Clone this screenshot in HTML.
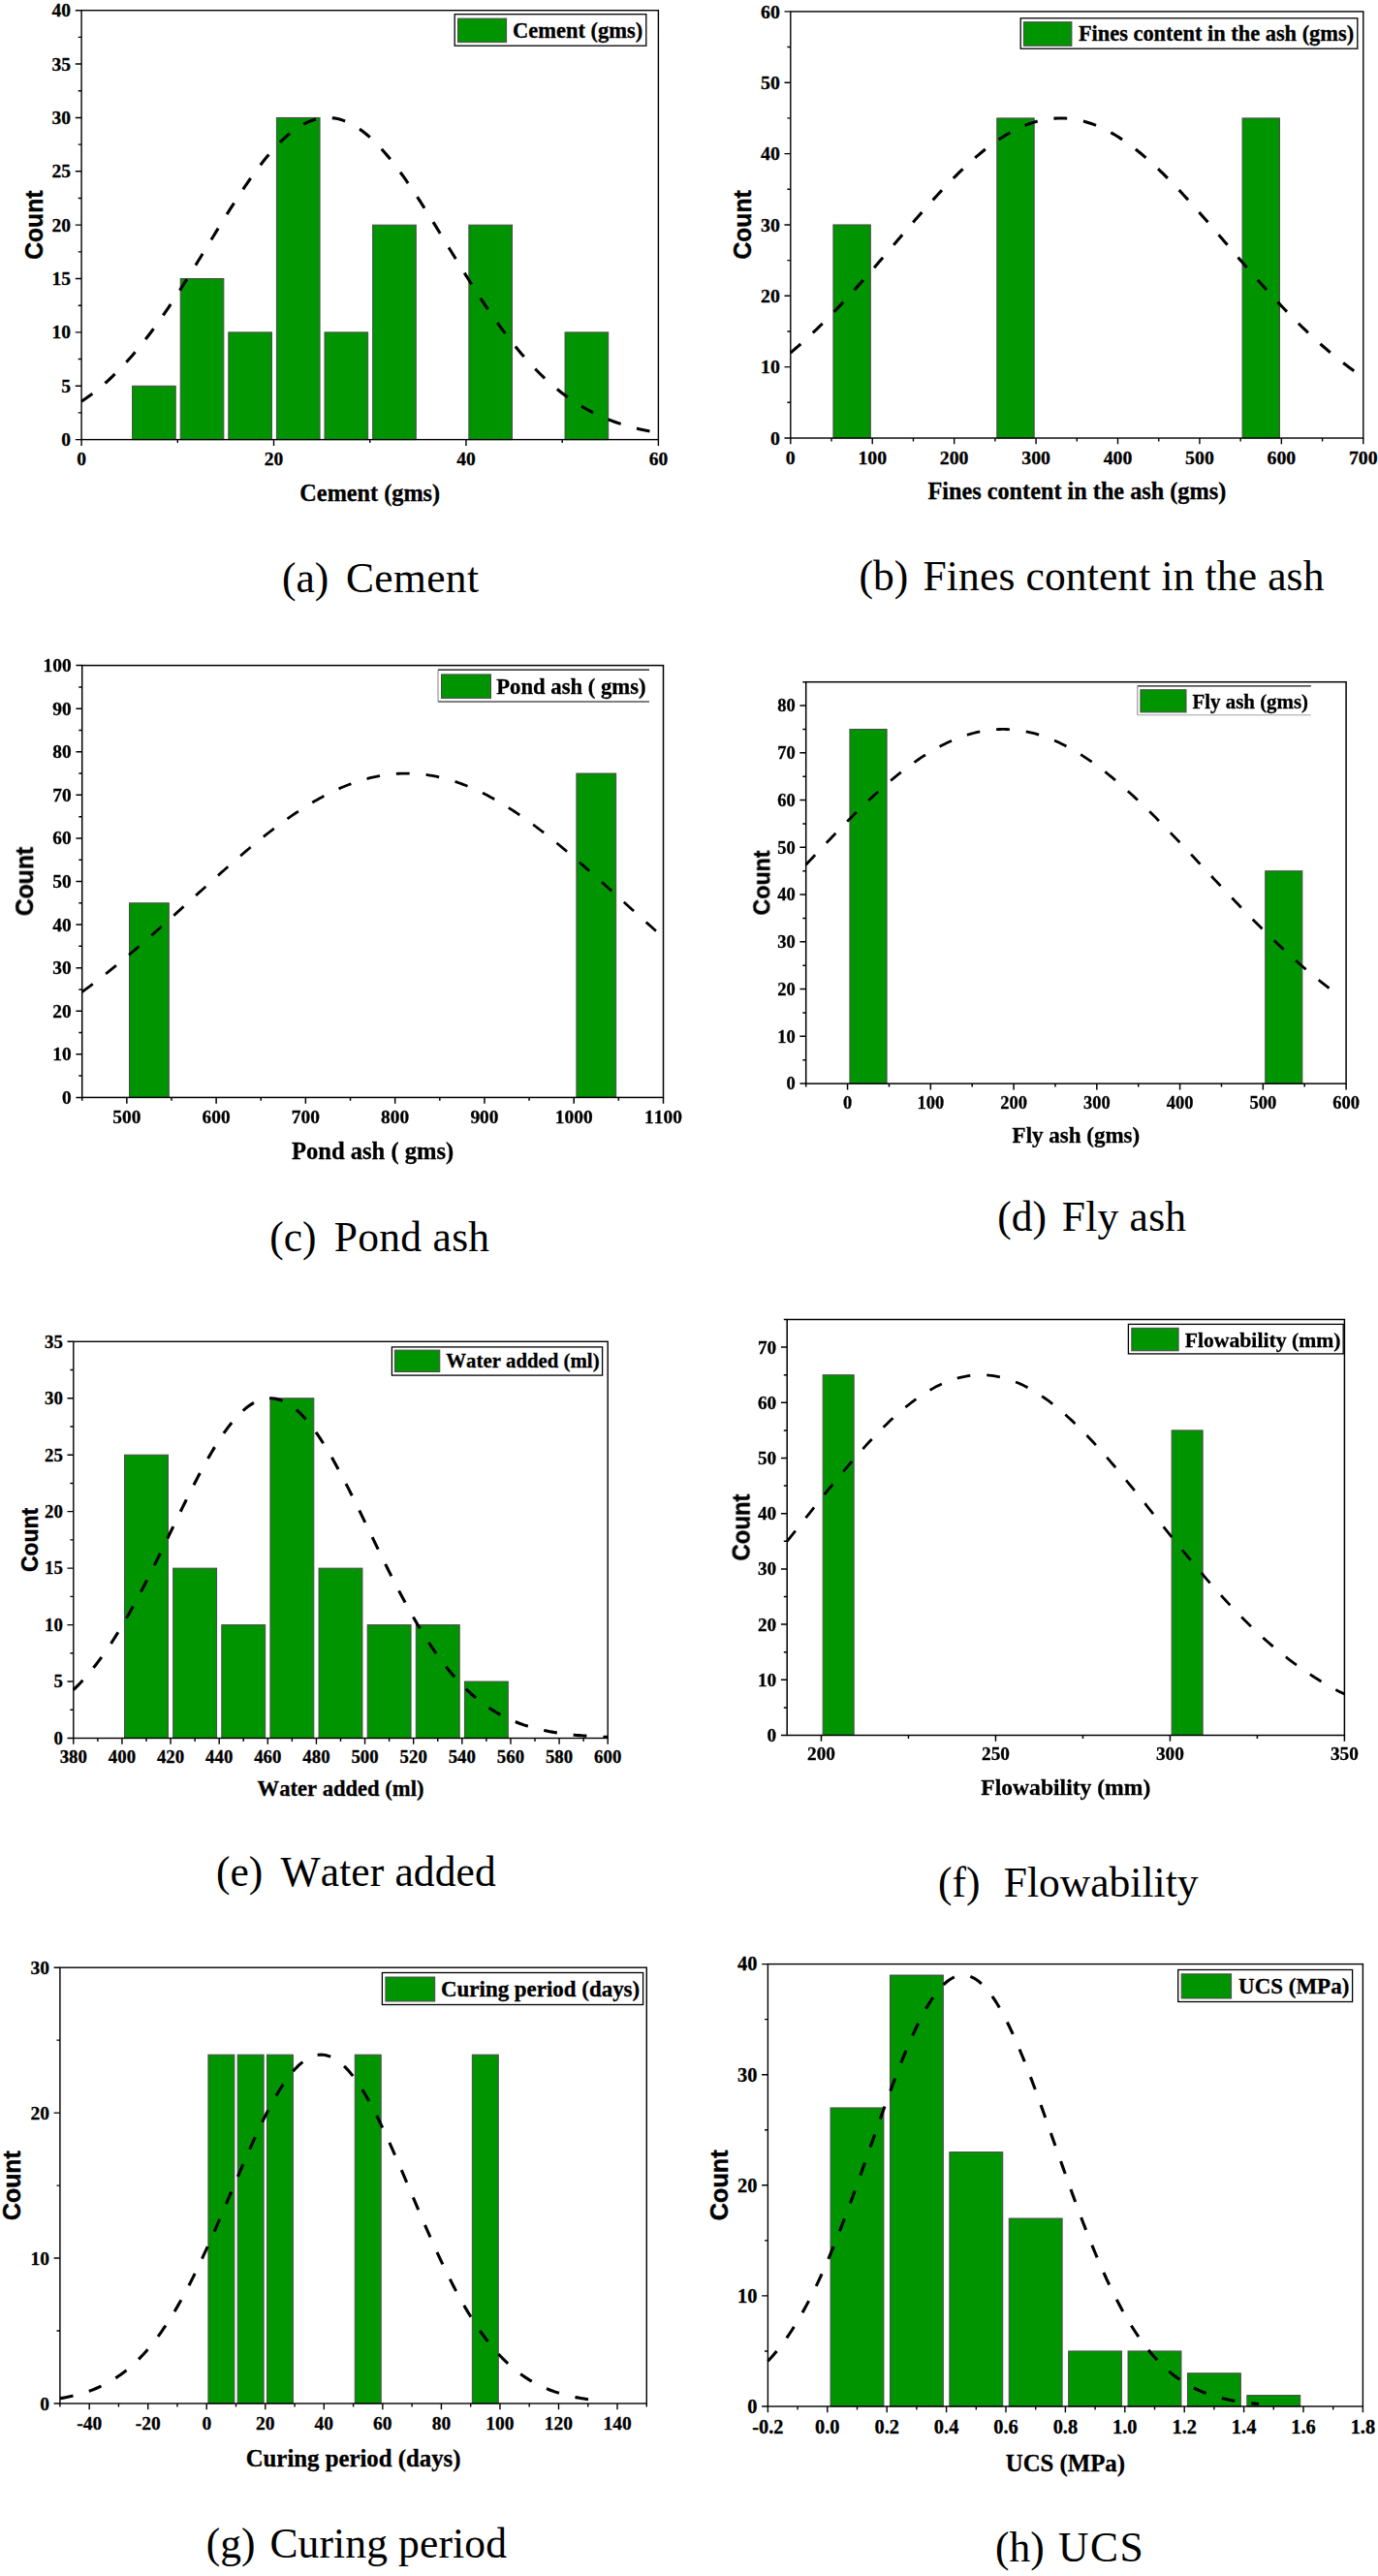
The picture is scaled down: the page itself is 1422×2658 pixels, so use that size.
<!DOCTYPE html>
<html><head><meta charset="utf-8"><title>Histograms</title>
<style>html,body{margin:0;padding:0;background:#fff;}svg{display:block;}text{font-kerning:none;}</style></head>
<body>
<svg width="1422" height="2658" viewBox="0 0 1422 2658">
<defs><filter id="bl" x="-5%" y="-5%" width="110%" height="110%"><feGaussianBlur stdDeviation="0.5"/></filter></defs>
<rect width="1422" height="2658" fill="#fff"/>
<g>
<rect x="136.59" y="398.24" width="44.65" height="55.36" fill="#009400" stroke="#4a4a4a" stroke-width="1"/>
<rect x="186.2" y="287.51" width="44.65" height="166.09" fill="#009400" stroke="#4a4a4a" stroke-width="1"/>
<rect x="235.81" y="342.88" width="44.65" height="110.73" fill="#009400" stroke="#4a4a4a" stroke-width="1"/>
<rect x="285.41" y="121.43" width="44.65" height="332.18" fill="#009400" stroke="#4a4a4a" stroke-width="1"/>
<rect x="335.02" y="342.88" width="44.65" height="110.73" fill="#009400" stroke="#4a4a4a" stroke-width="1"/>
<rect x="384.63" y="232.15" width="44.65" height="221.45" fill="#009400" stroke="#4a4a4a" stroke-width="1"/>
<rect x="483.85" y="232.15" width="44.65" height="221.45" fill="#009400" stroke="#4a4a4a" stroke-width="1"/>
<rect x="583.06" y="342.88" width="44.65" height="110.73" fill="#009400" stroke="#4a4a4a" stroke-width="1"/>
<polyline points="84.1,414.17 86.58,412.5 89.06,410.78 91.54,409.01 94.02,407.18 96.5,405.29 98.98,403.35 101.46,401.35 103.94,399.3 106.42,397.19 108.9,395.02 111.38,392.79 113.86,390.5 116.35,388.15 118.83,385.74 121.31,383.27 123.79,380.74 126.27,378.15 128.75,375.51 131.23,372.8 133.71,370.03 136.19,367.2 138.67,364.31 141.15,361.36 143.63,358.36 146.11,355.29 148.59,352.17 151.07,348.99 153.55,345.76 156.03,342.47 158.51,339.13 160.99,335.73 163.47,332.29 165.95,328.79 168.43,325.25 170.91,321.65 173.39,318.02 175.88,314.34 178.36,310.61 180.84,306.85 183.32,303.05 185.8,299.21 188.28,295.34 190.76,291.44 193.24,287.51 195.72,283.56 198.2,279.58 200.68,275.58 203.16,271.56 205.64,267.53 208.12,263.49 210.6,259.43 213.08,255.37 215.56,251.31 218.04,247.25 220.52,243.2 223,239.15 225.48,235.11 227.96,231.08 230.44,227.08 232.92,223.09 235.41,219.13 237.89,215.2 240.37,211.3 242.85,207.44 245.33,203.62 247.81,199.84 250.29,196.11 252.77,192.43 255.25,188.81 257.73,185.25 260.21,181.74 262.69,178.31 265.17,174.94 267.65,171.65 270.13,168.43 272.61,165.3 275.09,162.25 277.57,159.28 280.05,156.41 282.53,153.63 285.01,150.95 287.49,148.36 289.97,145.89 292.45,143.51 294.94,141.25 297.42,139.1 299.9,137.06 302.38,135.13 304.86,133.33 307.34,131.64 309.82,130.08 312.3,128.65 314.78,127.34 317.26,126.15 319.74,125.1 322.22,124.18 324.7,123.39 327.18,122.73 329.66,122.2 332.14,121.81 334.62,121.56 337.1,121.44 339.58,121.45 342.06,121.6 344.54,121.88 347.02,122.3 349.5,122.85 351.99,123.54 354.47,124.35 356.95,125.3 359.43,126.38 361.91,127.59 364.39,128.92 366.87,130.39 369.35,131.97 371.83,133.68 374.31,135.51 376.79,137.45 379.27,139.52 381.75,141.69 384.23,143.98 386.71,146.37 389.19,148.87 391.67,151.48 394.15,154.18 396.63,156.98 399.11,159.87 401.59,162.85 404.07,165.92 406.55,169.07 409.03,172.3 411.51,175.61 414,178.99 416.48,182.44 418.96,185.95 421.44,189.53 423.92,193.17 426.4,196.85 428.88,200.59 431.36,204.38 433.84,208.21 436.32,212.08 438.8,215.99 441.28,219.92 443.76,223.89 446.24,227.88 448.72,231.89 451.2,235.91 453.68,239.95 456.16,244.01 458.64,248.06 461.12,252.13 463.6,256.19 466.08,260.25 468.56,264.3 471.04,268.34 473.53,272.37 476.01,276.38 478.49,280.38 480.97,284.35 483.45,288.3 485.93,292.23 488.41,296.12 490.89,299.98 493.37,303.81 495.85,307.61 498.33,311.36 500.81,315.07 503.29,318.75 505.77,322.38 508.25,325.96 510.73,329.49 513.21,332.98 515.69,336.42 518.17,339.8 520.65,343.13 523.13,346.41 525.61,349.63 528.09,352.8 530.57,355.91 533.06,358.96 535.54,361.96 538.02,364.89 540.5,367.77 542.98,370.59 545.46,373.34 547.94,376.04 550.42,378.68 552.9,381.25 555.38,383.77 557.86,386.23 560.34,388.62 562.82,390.96 565.3,393.24 567.78,395.46 570.26,397.61 572.74,399.72 575.22,401.76 577.7,403.74 580.18,405.67 582.66,407.55 585.14,409.37 587.62,411.13 590.1,412.84 592.59,414.5 595.07,416.1 597.55,417.65 600.03,419.16 602.51,420.61 604.99,422.02 607.47,423.37 609.95,424.69 612.43,425.95 614.91,427.17 617.39,428.35 619.87,429.48 622.35,430.58 624.83,431.63 627.31,432.64 629.79,433.62 632.27,434.55 634.75,435.45 637.23,436.32 639.71,437.15 642.19,437.94 644.67,438.71 647.15,439.44 649.63,440.14 652.12,440.82 654.6,441.46 657.08,442.08 659.56,442.66 662.04,443.23 664.52,443.77 667,444.28 669.48,444.77 671.96,445.24 674.44,445.69 676.92,446.11 679.4,446.52" fill="none" stroke="#000" stroke-width="3.1" stroke-dasharray="13.8 17.0" stroke-dashoffset="0"/>
<rect x="84.1" y="10.7" width="595.3" height="442.9" fill="none" stroke="#000" stroke-width="1.4"/>
<path d="M84.1 453.6h-6.3M84.1 398.24h-6.3M84.1 342.88h-6.3M84.1 287.51h-6.3M84.1 232.15h-6.3M84.1 176.79h-6.3M84.1 121.43h-6.3M84.1 66.06h-6.3M84.1 10.7h-6.3M84.1 425.92h-3.4M84.1 370.56h-3.4M84.1 315.19h-3.4M84.1 259.83h-3.4M84.1 204.47h-3.4M84.1 149.11h-3.4M84.1 93.74h-3.4M84.1 38.38h-3.4M84.1 453.6v6.3M282.53 453.6v6.3M480.97 453.6v6.3M679.4 453.6v6.3M183.32 453.6v3.4M381.75 453.6v3.4M580.18 453.6v3.4" stroke="#000" stroke-width="1.4" fill="none"/>
<g font-family='"Liberation Serif", serif' font-weight="bold" font-size="19.5" fill="#000" stroke="#000" stroke-width="0.3">
<text x="73.1" y="460.13" text-anchor="end">0</text>
<text x="73.1" y="404.77" text-anchor="end">5</text>
<text x="73.1" y="349.41" text-anchor="end">10</text>
<text x="73.1" y="294.05" text-anchor="end">15</text>
<text x="73.1" y="238.68" text-anchor="end">20</text>
<text x="73.1" y="183.32" text-anchor="end">25</text>
<text x="73.1" y="127.96" text-anchor="end">30</text>
<text x="73.1" y="72.59" text-anchor="end">35</text>
<text x="73.1" y="17.23" text-anchor="end">40</text>
<text x="84.1" y="480.4" text-anchor="middle">0</text>
<text x="282.53" y="480.4" text-anchor="middle">20</text>
<text x="480.97" y="480.4" text-anchor="middle">40</text>
<text x="679.4" y="480.4" text-anchor="middle">60</text>
</g>
<text x="381.75" y="517" text-anchor="middle" font-family='"Liberation Serif", serif' font-weight="bold" font-size="24.25" stroke="#000" stroke-width="0.3">Cement (gms)</text>
<text transform="translate(44.3 232.15) rotate(-90) scale(1.03 1.08)" text-anchor="middle" font-family='"Liberation Sans", sans-serif' font-weight="bold" font-size="24" stroke="#000" stroke-width="0.4">Count</text>
<rect x="469.2" y="14.7" width="197.6" height="32.5" fill="#fff" stroke="#000" stroke-width="1.3"/>
<rect x="472.5" y="19.1" width="50.1" height="24.5" fill="#009400" stroke="#4a4a4a" stroke-width="1"/>
<text x="529" y="38.7" font-family='"Liberation Serif", serif' font-weight="bold" font-size="22.5" stroke="#000" stroke-width="0.3">Cement (gms)</text>
</g>
<g font-family='"Liberation Serif", serif' font-size="43.5" fill="#000"><text x="290.9" y="610.6">(a)</text><text x="357" y="610.6" textLength="137" lengthAdjust="spacing">Cement</text></g>
<g>
<rect x="859.91" y="231.95" width="38.41" height="220.05" fill="#009400" stroke="#4a4a4a" stroke-width="1"/>
<rect x="1028.77" y="121.92" width="38.42" height="330.08" fill="#009400" stroke="#4a4a4a" stroke-width="1"/>
<rect x="1282.06" y="121.92" width="38.42" height="330.08" fill="#009400" stroke="#4a4a4a" stroke-width="1"/>
<polyline points="815.8,363.94 818.26,361.87 820.72,359.77 823.19,357.64 825.65,355.48 828.11,353.29 830.57,351.07 833.04,348.82 835.5,346.55 837.96,344.25 840.42,341.92 842.89,339.56 845.35,337.17 847.81,334.76 850.27,332.33 852.74,329.86 855.2,327.38 857.66,324.87 860.12,322.33 862.59,319.77 865.05,317.19 867.51,314.59 869.97,311.96 872.44,309.32 874.9,306.65 877.36,303.97 879.82,301.27 882.29,298.55 884.75,295.81 887.21,293.06 889.67,290.29 892.14,287.51 894.6,284.71 897.06,281.9 899.52,279.08 901.99,276.25 904.45,273.41 906.91,270.57 909.38,267.71 911.84,264.85 914.3,261.98 916.76,259.11 919.22,256.24 921.69,253.36 924.15,250.48 926.61,247.61 929.07,244.73 931.54,241.86 934,239 936.46,236.13 938.92,233.28 941.39,230.43 943.85,227.6 946.31,224.77 948.77,221.95 951.24,219.15 953.7,216.36 956.16,213.59 958.62,210.84 961.09,208.1 963.55,205.39 966.01,202.69 968.47,200.02 970.94,197.37 973.4,194.75 975.86,192.15 978.32,189.59 980.79,187.05 983.25,184.54 985.71,182.06 988.17,179.62 990.64,177.21 993.1,174.84 995.56,172.5 998.02,170.21 1000.49,167.95 1002.95,165.73 1005.41,163.56 1007.88,161.43 1010.34,159.34 1012.8,157.3 1015.26,155.31 1017.72,153.37 1020.19,151.47 1022.65,149.63 1025.11,147.84 1027.58,146.09 1030.04,144.41 1032.5,142.77 1034.96,141.2 1037.42,139.68 1039.89,138.21 1042.35,136.81 1044.81,135.46 1047.28,134.18 1049.74,132.95 1052.2,131.79 1054.66,130.68 1057.12,129.65 1059.59,128.67 1062.05,127.76 1064.51,126.91 1066.97,126.13 1069.44,125.41 1071.9,124.76 1074.36,124.18 1076.83,123.66 1079.29,123.21 1081.75,122.82 1084.21,122.51 1086.67,122.26 1089.14,122.08 1091.6,121.97 1094.06,121.93 1096.52,121.95 1098.99,122.04 1101.45,122.2 1103.91,122.43 1106.38,122.73 1108.84,123.09 1111.3,123.52 1113.76,124.02 1116.22,124.59 1118.69,125.22 1121.15,125.92 1123.61,126.68 1126.08,127.51 1128.54,128.4 1131,129.36 1133.46,130.38 1135.92,131.47 1138.39,132.61 1140.85,133.82 1143.31,135.09 1145.78,136.42 1148.24,137.81 1150.7,139.25 1153.16,140.76 1155.62,142.32 1158.09,143.94 1160.55,145.61 1163.01,147.33 1165.47,149.11 1167.94,150.94 1170.4,152.82 1172.86,154.75 1175.32,156.73 1177.79,158.76 1180.25,160.83 1182.71,162.95 1185.17,165.11 1187.64,167.31 1190.1,169.56 1192.56,171.84 1195.03,174.17 1197.49,176.53 1199.95,178.93 1202.41,181.36 1204.88,183.83 1207.34,186.33 1209.8,188.86 1212.26,191.42 1214.72,194.01 1217.19,196.62 1219.65,199.26 1222.11,201.93 1224.57,204.62 1227.04,207.33 1229.5,210.06 1231.96,212.8 1234.42,215.57 1236.89,218.35 1239.35,221.15 1241.81,223.96 1244.27,226.79 1246.74,229.62 1249.2,232.47 1251.66,235.32 1254.12,238.18 1256.59,241.04 1259.05,243.91 1261.51,246.79 1263.97,249.66 1266.44,252.54 1268.9,255.42 1271.36,258.29 1273.83,261.16 1276.29,264.03 1278.75,266.89 1281.21,269.75 1283.67,272.6 1286.14,275.44 1288.6,278.28 1291.06,281.1 1293.53,283.91 1295.99,286.71 1298.45,289.5 1300.91,292.27 1303.38,295.03 1305.84,297.77 1308.3,300.49 1310.76,303.2 1313.22,305.89 1315.69,308.56 1318.15,311.21 1320.61,313.84 1323.08,316.45 1325.54,319.04 1328,321.6 1330.46,324.14 1332.92,326.66 1335.39,329.16 1337.85,331.63 1340.31,334.07 1342.77,336.49 1345.24,338.88 1347.7,341.24 1350.16,343.58 1352.62,345.89 1355.09,348.18 1357.55,350.43 1360.01,352.66 1362.47,354.85 1364.94,357.02 1367.4,359.16 1369.86,361.27 1372.32,363.35 1374.79,365.4 1377.25,367.42 1379.71,369.41 1382.17,371.37 1384.64,373.3 1387.1,375.2 1389.56,377.07 1392.03,378.91 1394.49,380.72 1396.95,382.5 1399.41,384.24 1401.88,385.96 1404.34,387.65 1406.8,389.31" fill="none" stroke="#000" stroke-width="3.1" stroke-dasharray="13.8 17.0" stroke-dashoffset="0"/>
<rect x="815.8" y="11.9" width="591" height="440.1" fill="none" stroke="#000" stroke-width="1.4"/>
<path d="M815.8 452h-6.3M815.8 378.65h-6.3M815.8 305.3h-6.3M815.8 231.95h-6.3M815.8 158.6h-6.3M815.8 85.25h-6.3M815.8 11.9h-6.3M815.8 415.32h-3.4M815.8 341.98h-3.4M815.8 268.62h-3.4M815.8 195.27h-3.4M815.8 121.92h-3.4M815.8 48.57h-3.4M815.8 452v6.3M900.23 452v6.3M984.66 452v6.3M1069.09 452v6.3M1153.51 452v6.3M1237.94 452v6.3M1322.37 452v6.3M1406.8 452v6.3M858.01 452v3.4M942.44 452v3.4M1026.87 452v3.4M1111.3 452v3.4M1195.73 452v3.4M1280.16 452v3.4M1364.59 452v3.4" stroke="#000" stroke-width="1.4" fill="none"/>
<g font-family='"Liberation Serif", serif' font-weight="bold" font-size="19.8" fill="#000" stroke="#000" stroke-width="0.3">
<text x="804.8" y="458.63" text-anchor="end">0</text>
<text x="804.8" y="385.28" text-anchor="end">10</text>
<text x="804.8" y="311.93" text-anchor="end">20</text>
<text x="804.8" y="238.58" text-anchor="end">30</text>
<text x="804.8" y="165.23" text-anchor="end">40</text>
<text x="804.8" y="91.88" text-anchor="end">50</text>
<text x="804.8" y="18.53" text-anchor="end">60</text>
<text x="815.8" y="478.5" text-anchor="middle">0</text>
<text x="900.23" y="478.5" text-anchor="middle">100</text>
<text x="984.66" y="478.5" text-anchor="middle">200</text>
<text x="1069.09" y="478.5" text-anchor="middle">300</text>
<text x="1153.51" y="478.5" text-anchor="middle">400</text>
<text x="1237.94" y="478.5" text-anchor="middle">500</text>
<text x="1322.37" y="478.5" text-anchor="middle">600</text>
<text x="1406.8" y="478.5" text-anchor="middle">700</text>
</g>
<text x="1111.3" y="515.4" text-anchor="middle" font-family='"Liberation Serif", serif' font-weight="bold" font-size="24.25" stroke="#000" stroke-width="0.3">Fines content in the ash (gms)</text>
<text transform="translate(775.3 231.95) rotate(-90) scale(1.03 1.08)" text-anchor="middle" font-family='"Liberation Sans", sans-serif' font-weight="bold" font-size="24" stroke="#000" stroke-width="0.4">Count</text>
<rect x="1053.2" y="18.8" width="347.6" height="31.4" fill="#fff" stroke="#000" stroke-width="1.3"/>
<rect x="1056.4" y="22.7" width="49.5" height="24.6" fill="#009400" stroke="#4a4a4a" stroke-width="1"/>
<text x="1112.9" y="41.8" font-family='"Liberation Serif", serif' font-weight="bold" font-size="22.4" stroke="#000" stroke-width="0.3">Fines content in the ash (gms)</text>
</g>
<g font-family='"Liberation Serif", serif' font-size="43.5" fill="#000"><text x="886.4" y="609.2">(b)</text><text x="952.5" y="609.2" textLength="413.9" lengthAdjust="spacing">Fines content in the ash</text></g>
<g filter="url(#bl)">
<rect x="133.51" y="931.79" width="40.79" height="200.61" fill="#009400" stroke="#4a4a4a" stroke-width="1"/>
<rect x="594.9" y="798.05" width="40.79" height="334.35" fill="#009400" stroke="#4a4a4a" stroke-width="1"/>
<polyline points="84.7,1023.52 87.18,1021.7 89.65,1019.87 92.13,1018.02 94.6,1016.15 97.08,1014.27 99.56,1012.37 102.03,1010.46 104.51,1008.53 106.98,1006.59 109.46,1004.63 111.94,1002.66 114.41,1000.67 116.89,998.67 119.37,996.66 121.84,994.63 124.32,992.59 126.79,990.53 129.27,988.47 131.75,986.39 134.22,984.3 136.7,982.2 139.17,980.09 141.65,977.96 144.13,975.83 146.6,973.69 149.08,971.53 151.55,969.37 154.03,967.2 156.51,965.02 158.98,962.83 161.46,960.64 163.94,958.44 166.41,956.23 168.89,954.02 171.36,951.8 173.84,949.57 176.32,947.34 178.79,945.11 181.27,942.87 183.74,940.63 186.22,938.39 188.7,936.14 191.17,933.89 193.65,931.65 196.12,929.4 198.6,927.15 201.08,924.9 203.55,922.65 206.03,920.41 208.5,918.17 210.98,915.93 213.46,913.69 215.93,911.46 218.41,909.23 220.89,907.01 223.36,904.79 225.84,902.58 228.31,900.38 230.79,898.18 233.27,896 235.74,893.82 238.22,891.65 240.69,889.49 243.17,887.34 245.65,885.21 248.12,883.08 250.6,880.97 253.07,878.87 255.55,876.79 258.03,874.72 260.5,872.67 262.98,870.63 265.46,868.6 267.93,866.6 270.41,864.61 272.88,862.64 275.36,860.69 277.84,858.76 280.31,856.85 282.79,854.96 285.26,853.09 287.74,851.25 290.22,849.42 292.69,847.62 295.17,845.84 297.64,844.09 300.12,842.36 302.6,840.66 305.07,838.99 307.55,837.34 310.02,835.72 312.5,834.12 314.98,832.55 317.45,831.02 319.93,829.51 322.41,828.03 324.88,826.58 327.36,825.17 329.83,823.78 332.31,822.43 334.79,821.11 337.26,819.82 339.74,818.56 342.21,817.34 344.69,816.15 347.17,815 349.64,813.88 352.12,812.8 354.59,811.76 357.07,810.74 359.55,809.77 362.02,808.83 364.5,807.93 366.98,807.07 369.45,806.25 371.93,805.46 374.4,804.71 376.88,804 379.36,803.33 381.83,802.7 384.31,802.11 386.78,801.56 389.26,801.04 391.74,800.57 394.21,800.14 396.69,799.75 399.16,799.39 401.64,799.08 404.12,798.81 406.59,798.58 409.07,798.39 411.54,798.25 414.02,798.14 416.5,798.07 418.97,798.05 421.45,798.07 423.93,798.12 426.4,798.22 428.88,798.36 431.35,798.54 433.83,798.77 436.31,799.03 438.78,799.33 441.26,799.68 443.73,800.06 446.21,800.49 448.69,800.95 451.16,801.46 453.64,802 456.11,802.59 458.59,803.21 461.07,803.87 463.54,804.58 466.02,805.32 468.5,806.1 470.97,806.91 473.45,807.77 475.92,808.66 478.4,809.59 480.88,810.56 483.35,811.56 485.83,812.6 488.3,813.68 490.78,814.79 493.26,815.94 495.73,817.12 498.21,818.33 500.68,819.58 503.16,820.86 505.64,822.18 508.11,823.53 510.59,824.91 513.06,826.32 515.54,827.76 518.02,829.23 520.49,830.73 522.97,832.27 525.45,833.83 527.92,835.42 530.4,837.03 532.87,838.68 535.35,840.35 537.83,842.05 540.3,843.77 542.78,845.52 545.25,847.29 547.73,849.09 550.21,850.9 552.68,852.75 555.16,854.61 557.63,856.5 560.11,858.4 562.59,860.33 565.06,862.28 567.54,864.24 570.02,866.23 572.49,868.23 574.97,870.25 577.44,872.28 579.92,874.34 582.4,876.4 584.87,878.48 587.35,880.58 589.82,882.69 592.3,884.81 594.78,886.95 597.25,889.09 599.73,891.25 602.2,893.41 604.68,895.59 607.16,897.78 609.63,899.97 612.11,902.17 614.58,904.38 617.06,906.59 619.54,908.82 622.01,911.04 624.49,913.27 626.97,915.51 629.44,917.75 631.92,919.99 634.39,922.24 636.87,924.48 639.35,926.73 641.82,928.98 644.3,931.23 646.77,933.47 649.25,935.72 651.73,937.97 654.2,940.21 656.68,942.45 659.15,944.69 661.63,946.93 664.11,949.16 666.58,951.38 669.06,953.6 671.54,955.82 674.01,958.03 676.49,960.23 678.96,962.43" fill="none" stroke="#000" stroke-width="2.8" stroke-dasharray="13.8 17.0" stroke-dashoffset="0"/>
<rect x="84.7" y="686.6" width="599.8" height="445.8" fill="none" stroke="#000" stroke-width="1.5"/>
<path d="M84.7 1132.4h-6.3M84.7 1087.82h-6.3M84.7 1043.24h-6.3M84.7 998.66h-6.3M84.7 954.08h-6.3M84.7 909.5h-6.3M84.7 864.92h-6.3M84.7 820.34h-6.3M84.7 775.76h-6.3M84.7 731.18h-6.3M84.7 686.6h-6.3M84.7 1110.11h-3.4M84.7 1065.53h-3.4M84.7 1020.95h-3.4M84.7 976.37h-3.4M84.7 931.79h-3.4M84.7 887.21h-3.4M84.7 842.63h-3.4M84.7 798.05h-3.4M84.7 753.47h-3.4M84.7 708.89h-3.4M130.84 1132.4v6.3M223.12 1132.4v6.3M315.39 1132.4v6.3M407.67 1132.4v6.3M499.95 1132.4v6.3M592.22 1132.4v6.3M684.5 1132.4v6.3M84.7 1132.4v3.4M176.98 1132.4v3.4M269.25 1132.4v3.4M361.53 1132.4v3.4M453.81 1132.4v3.4M546.08 1132.4v3.4M638.36 1132.4v3.4" stroke="#000" stroke-width="1.5" fill="none"/>
<g font-family='"Liberation Serif", serif' font-weight="bold" font-size="19.4" fill="#000" stroke="#000" stroke-width="0.3">
<text x="73.7" y="1138.9" text-anchor="end">0</text>
<text x="73.7" y="1094.32" text-anchor="end">10</text>
<text x="73.7" y="1049.74" text-anchor="end">20</text>
<text x="73.7" y="1005.16" text-anchor="end">30</text>
<text x="73.7" y="960.58" text-anchor="end">40</text>
<text x="73.7" y="916" text-anchor="end">50</text>
<text x="73.7" y="871.42" text-anchor="end">60</text>
<text x="73.7" y="826.84" text-anchor="end">70</text>
<text x="73.7" y="782.26" text-anchor="end">80</text>
<text x="73.7" y="737.68" text-anchor="end">90</text>
<text x="73.7" y="693.1" text-anchor="end">100</text>
<text x="130.84" y="1159" text-anchor="middle">500</text>
<text x="223.12" y="1159" text-anchor="middle">600</text>
<text x="315.39" y="1159" text-anchor="middle">700</text>
<text x="407.67" y="1159" text-anchor="middle">800</text>
<text x="499.95" y="1159" text-anchor="middle">900</text>
<text x="592.22" y="1159" text-anchor="middle">1000</text>
<text x="684.5" y="1159" text-anchor="middle">1100</text>
</g>
<text x="384.6" y="1195.6" text-anchor="middle" font-family='"Liberation Serif", serif' font-weight="bold" font-size="24.6" stroke="#000" stroke-width="0.3">Pond ash ( gms)</text>
<text transform="translate(34 909.5) rotate(-90) scale(1.03 1.08)" text-anchor="middle" font-family='"Liberation Sans", sans-serif' font-weight="bold" font-size="24" stroke="#000" stroke-width="0.4">Count</text>
<rect x="452" y="691.2" width="218" height="32.8" fill="#fff" stroke="none"/>
<path d="M452 691.2H670M452 724H670" stroke="#000" stroke-width="1.2" fill="none"/>
<path d="M452 691.2V724" stroke="#666" stroke-width="0.8" fill="none"/>
<rect x="455.5" y="695.9" width="51" height="24.5" fill="#009400" stroke="#4a4a4a" stroke-width="1"/>
<text x="512.2" y="715.9" font-family='"Liberation Serif", serif' font-weight="bold" font-size="22.7" stroke="#000" stroke-width="0.3">Pond ash ( gms)</text>
</g>
<g font-family='"Liberation Serif", serif' font-size="43.5" fill="#000"><text x="278.3" y="1290.5">(c)</text><text x="344.8" y="1290.5" textLength="160.3" lengthAdjust="spacing">Pond ash</text></g>
<g filter="url(#bl)">
<rect x="876.94" y="752.45" width="38.16" height="365.65" fill="#009400" stroke="#4a4a4a" stroke-width="1"/>
<rect x="1305.7" y="898.71" width="38.16" height="219.39" fill="#009400" stroke="#4a4a4a" stroke-width="1"/>
<polyline points="831.7,892.2 833.97,889.77 836.24,887.35 838.52,884.92 840.79,882.5 843.06,880.09 845.33,877.67 847.61,875.27 849.88,872.86 852.15,870.47 854.42,868.07 856.7,865.69 858.97,863.32 861.24,860.95 863.51,858.59 865.79,856.24 868.06,853.9 870.33,851.58 872.6,849.26 874.88,846.96 877.15,844.67 879.42,842.39 881.69,840.13 883.97,837.89 886.24,835.66 888.51,833.44 890.78,831.24 893.06,829.07 895.33,826.9 897.6,824.76 899.87,822.64 902.15,820.54 904.42,818.46 906.69,816.4 908.96,814.36 911.24,812.35 913.51,810.35 915.78,808.39 918.05,806.45 920.33,804.53 922.6,802.64 924.87,800.78 927.14,798.94 929.42,797.13 931.69,795.35 933.96,793.6 936.23,791.88 938.51,790.19 940.78,788.53 943.05,786.9 945.32,785.3 947.6,783.74 949.87,782.2 952.14,780.7 954.41,779.24 956.69,777.81 958.96,776.41 961.23,775.06 963.5,773.73 965.78,772.44 968.05,771.19 970.32,769.98 972.59,768.8 974.87,767.67 977.14,766.57 979.41,765.51 981.68,764.48 983.96,763.5 986.23,762.56 988.5,761.66 990.77,760.8 993.05,759.98 995.32,759.2 997.59,758.46 999.86,757.76 1002.14,757.11 1004.41,756.5 1006.68,755.93 1008.95,755.4 1011.23,754.92 1013.5,754.48 1015.77,754.08 1018.04,753.72 1020.32,753.41 1022.59,753.15 1024.86,752.92 1027.13,752.74 1029.41,752.6 1031.68,752.51 1033.95,752.46 1036.22,752.46 1038.5,752.49 1040.77,752.58 1043.04,752.7 1045.31,752.87 1047.59,753.09 1049.86,753.34 1052.13,753.64 1054.4,753.99 1056.68,754.38 1058.95,754.81 1061.22,755.28 1063.49,755.8 1065.77,756.36 1068.04,756.96 1070.31,757.6 1072.58,758.29 1074.86,759.01 1077.13,759.78 1079.4,760.59 1081.67,761.44 1083.94,762.34 1086.22,763.27 1088.49,764.24 1090.76,765.25 1093.03,766.3 1095.31,767.39 1097.58,768.52 1099.85,769.69 1102.12,770.89 1104.4,772.13 1106.67,773.41 1108.94,774.73 1111.21,776.08 1113.49,777.46 1115.76,778.89 1118.03,780.34 1120.3,781.83 1122.58,783.36 1124.85,784.91 1127.12,786.5 1129.39,788.12 1131.67,789.78 1133.94,791.46 1136.21,793.17 1138.48,794.92 1140.76,796.69 1143.03,798.49 1145.3,800.32 1147.57,802.18 1149.85,804.06 1152.12,805.97 1154.39,807.91 1156.66,809.87 1158.94,811.85 1161.21,813.86 1163.48,815.9 1165.75,817.95 1168.03,820.03 1170.3,822.12 1172.57,824.24 1174.84,826.38 1177.12,828.53 1179.39,830.71 1181.66,832.9 1183.93,835.11 1186.21,837.34 1188.48,839.58 1190.75,841.84 1193.02,844.11 1195.3,846.4 1197.57,848.7 1199.84,851.01 1202.11,853.33 1204.39,855.67 1206.66,858.01 1208.93,860.37 1211.2,862.73 1213.48,865.11 1215.75,867.49 1218.02,869.88 1220.29,872.27 1222.57,874.68 1224.84,877.08 1227.11,879.49 1229.38,881.91 1231.66,884.33 1233.93,886.75 1236.2,889.18 1238.47,891.6 1240.75,894.03 1243.02,896.46 1245.29,898.89 1247.56,901.32 1249.84,903.74 1252.11,906.17 1254.38,908.59 1256.65,911.01 1258.93,913.43 1261.2,915.84 1263.47,918.25 1265.74,920.65 1268.02,923.05 1270.29,925.44 1272.56,927.82 1274.83,930.2 1277.11,932.57 1279.38,934.94 1281.65,937.29 1283.92,939.63 1286.2,941.97 1288.47,944.3 1290.74,946.61 1293.01,948.92 1295.29,951.21 1297.56,953.5 1299.83,955.77 1302.1,958.03 1304.38,960.27 1306.65,962.51 1308.92,964.73 1311.19,966.93 1313.47,969.13 1315.74,971.31 1318.01,973.47 1320.28,975.62 1322.56,977.76 1324.83,979.87 1327.1,981.98 1329.37,984.07 1331.64,986.14 1333.92,988.19 1336.19,990.23 1338.46,992.25 1340.73,994.26 1343.01,996.24 1345.28,998.21 1347.55,1000.16 1349.82,1002.1 1352.1,1004.01 1354.37,1005.91 1356.64,1007.79 1358.91,1009.65 1361.19,1011.49 1363.46,1013.32 1365.73,1015.12 1368,1016.91 1370.28,1018.67 1372.55,1020.42 1374.82,1022.15 1377.09,1023.86" fill="none" stroke="#000" stroke-width="2.8" stroke-dasharray="13.8 17.0" stroke-dashoffset="0"/>
<rect x="831.7" y="703.7" width="557.4" height="414.4" fill="none" stroke="#000" stroke-width="1.5"/>
<path d="M831.7 1118.1h-6.3M831.7 1069.35h-6.3M831.7 1020.59h-6.3M831.7 971.84h-6.3M831.7 923.09h-6.3M831.7 874.34h-6.3M831.7 825.58h-6.3M831.7 776.83h-6.3M831.7 728.08h-6.3M831.7 1093.72h-3.4M831.7 1044.97h-3.4M831.7 996.22h-3.4M831.7 947.46h-3.4M831.7 898.71h-3.4M831.7 849.96h-3.4M831.7 801.21h-3.4M831.7 752.45h-3.4M831.7 703.7h-3.4M874.58 1118.1v6.3M960.33 1118.1v6.3M1046.08 1118.1v6.3M1131.84 1118.1v6.3M1217.59 1118.1v6.3M1303.35 1118.1v6.3M1389.1 1118.1v6.3M831.7 1118.1v3.4M917.45 1118.1v3.4M1003.21 1118.1v3.4M1088.96 1118.1v3.4M1174.72 1118.1v3.4M1260.47 1118.1v3.4M1346.22 1118.1v3.4" stroke="#000" stroke-width="1.5" fill="none"/>
<g font-family='"Liberation Serif", serif' font-weight="bold" font-size="18.5" fill="#000" stroke="#000" stroke-width="0.3">
<text x="820.7" y="1124.3" text-anchor="end">0</text>
<text x="820.7" y="1075.54" text-anchor="end">10</text>
<text x="820.7" y="1026.79" text-anchor="end">20</text>
<text x="820.7" y="978.04" text-anchor="end">30</text>
<text x="820.7" y="929.29" text-anchor="end">40</text>
<text x="820.7" y="880.53" text-anchor="end">50</text>
<text x="820.7" y="831.78" text-anchor="end">60</text>
<text x="820.7" y="783.03" text-anchor="end">70</text>
<text x="820.7" y="734.27" text-anchor="end">80</text>
<text x="874.58" y="1143.7" text-anchor="middle">0</text>
<text x="960.33" y="1143.7" text-anchor="middle">100</text>
<text x="1046.08" y="1143.7" text-anchor="middle">200</text>
<text x="1131.84" y="1143.7" text-anchor="middle">300</text>
<text x="1217.59" y="1143.7" text-anchor="middle">400</text>
<text x="1303.35" y="1143.7" text-anchor="middle">500</text>
<text x="1389.1" y="1143.7" text-anchor="middle">600</text>
</g>
<text x="1110.4" y="1178.7" text-anchor="middle" font-family='"Liberation Serif", serif' font-weight="bold" font-size="23" stroke="#000" stroke-width="0.3">Fly ash (gms)</text>
<text transform="translate(794 910.9) rotate(-90) scale(1.03 1.08)" text-anchor="middle" font-family='"Liberation Sans", sans-serif' font-weight="bold" font-size="22.5" stroke="#000" stroke-width="0.4">Count</text>
<rect x="1173.8" y="707.8" width="179" height="30" fill="#fff" stroke="none"/>
<path d="M1173.8 707.8H1352.8" stroke="#111" stroke-width="1.2" fill="none"/>
<path d="M1173.8 737.8H1352.8" stroke="#999" stroke-width="0.9" fill="none"/>
<path d="M1173.8 707.8V737.8" stroke="#777" stroke-width="0.9" fill="none"/>
<rect x="1176.9" y="711.7" width="47.1" height="23.2" fill="#009400" stroke="#4a4a4a" stroke-width="1"/>
<text x="1230.5" y="730.5" font-family='"Liberation Serif", serif' font-weight="bold" font-size="20.9" stroke="#000" stroke-width="0.3">Fly ash (gms)</text>
</g>
<g font-family='"Liberation Serif", serif' font-size="43.5" fill="#000"><text x="1029.2" y="1269.6">(d)</text><text x="1095.7" y="1269.6" textLength="128.4" lengthAdjust="spacing">Fly ash</text></g>
<g>
<rect x="128.53" y="1501.21" width="44.91" height="292.29" fill="#009400" stroke="#4a4a4a" stroke-width="1"/>
<rect x="178.66" y="1618.13" width="44.91" height="175.37" fill="#009400" stroke="#4a4a4a" stroke-width="1"/>
<rect x="228.79" y="1676.59" width="44.91" height="116.91" fill="#009400" stroke="#4a4a4a" stroke-width="1"/>
<rect x="278.92" y="1442.76" width="44.91" height="350.74" fill="#009400" stroke="#4a4a4a" stroke-width="1"/>
<rect x="329.04" y="1618.13" width="44.91" height="175.37" fill="#009400" stroke="#4a4a4a" stroke-width="1"/>
<rect x="379.17" y="1676.59" width="44.91" height="116.91" fill="#009400" stroke="#4a4a4a" stroke-width="1"/>
<rect x="429.3" y="1676.59" width="44.91" height="116.91" fill="#009400" stroke="#4a4a4a" stroke-width="1"/>
<rect x="479.42" y="1735.04" width="44.91" height="58.46" fill="#009400" stroke="#4a4a4a" stroke-width="1"/>
<polyline points="75.8,1743.67 78.1,1741.44 80.39,1739.13 82.69,1736.74 84.99,1734.28 87.29,1731.75 89.59,1729.14 91.88,1726.45 94.18,1723.68 96.48,1720.84 98.78,1717.92 101.07,1714.92 103.37,1711.84 105.67,1708.68 107.96,1705.45 110.26,1702.14 112.56,1698.75 114.86,1695.28 117.16,1691.74 119.45,1688.12 121.75,1684.43 124.05,1680.67 126.35,1676.83 128.64,1672.93 130.94,1668.96 133.24,1664.92 135.53,1660.81 137.83,1656.64 140.13,1652.42 142.43,1648.13 144.73,1643.79 147.02,1639.4 149.32,1634.95 151.62,1630.46 153.92,1625.93 156.21,1621.36 158.51,1616.75 160.81,1612.11 163.1,1607.43 165.4,1602.74 167.7,1598.02 170,1593.29 172.3,1588.54 174.59,1583.79 176.89,1579.03 179.19,1574.28 181.49,1569.53 183.78,1564.8 186.08,1560.08 188.38,1555.38 190.67,1550.71 192.97,1546.07 195.27,1541.47 197.57,1536.91 199.87,1532.4 202.16,1527.94 204.46,1523.54 206.76,1519.21 209.06,1514.94 211.35,1510.75 213.65,1506.64 215.95,1502.62 218.24,1498.69 220.54,1494.85 222.84,1491.12 225.14,1487.49 227.44,1483.97 229.73,1480.57 232.03,1477.29 234.33,1474.13 236.63,1471.11 238.92,1468.22 241.22,1465.46 243.52,1462.85 245.81,1460.38 248.11,1458.07 250.41,1455.9 252.71,1453.9 255.01,1452.05 257.3,1450.36 259.6,1448.84 261.9,1447.48 264.2,1446.29 266.49,1445.27 268.79,1444.42 271.09,1443.75 273.38,1443.25 275.68,1442.92 277.98,1442.77 280.28,1442.79 282.58,1442.99 284.87,1443.37 287.17,1443.91 289.47,1444.64 291.77,1445.53 294.06,1446.6 296.36,1447.83 298.66,1449.24 300.95,1450.8 303.25,1452.54 305.55,1454.43 307.85,1456.48 310.15,1458.69 312.44,1461.04 314.74,1463.55 317.04,1466.2 319.34,1468.99 321.63,1471.92 323.93,1474.98 326.23,1478.17 328.52,1481.49 330.82,1484.92 333.12,1488.47 335.42,1492.12 337.72,1495.89 340.01,1499.75 342.31,1503.71 344.61,1507.76 346.91,1511.89 349.2,1516.1 351.5,1520.38 353.8,1524.73 356.09,1529.15 358.39,1533.62 360.69,1538.15 362.99,1542.72 365.29,1547.33 367.58,1551.98 369.88,1556.66 372.18,1561.36 374.48,1566.09 376.77,1570.83 379.07,1575.58 381.37,1580.33 383.67,1585.09 385.96,1589.84 388.26,1594.58 390.56,1599.31 392.86,1604.02 395.15,1608.71 397.45,1613.37 399.75,1618.01 402.04,1622.61 404.34,1627.17 406.64,1631.69 408.94,1636.17 411.24,1640.6 413.53,1644.98 415.83,1649.31 418.13,1653.58 420.43,1657.79 422.72,1661.94 425.02,1666.02 427.32,1670.05 429.61,1674 431.91,1677.89 434.21,1681.7 436.51,1685.45 438.81,1689.12 441.1,1692.71 443.4,1696.23 445.7,1699.68 448,1703.05 450.29,1706.34 452.59,1709.55 454.89,1712.69 457.19,1715.74 459.48,1718.72 461.78,1721.62 464.08,1724.44 466.38,1727.19 468.67,1729.86 470.97,1732.45 473.27,1734.96 475.57,1737.4 477.86,1739.76 480.16,1742.05 482.46,1744.27 484.75,1746.42 487.05,1748.49 489.35,1750.5 491.65,1752.43 493.95,1754.3 496.24,1756.1 498.54,1757.84 500.84,1759.51 503.14,1761.12 505.43,1762.67 507.73,1764.16 510.03,1765.6 512.32,1766.97 514.62,1768.29 516.92,1769.56 519.22,1770.77 521.52,1771.94 523.81,1773.05 526.11,1774.12 528.41,1775.14 530.71,1776.11 533,1777.04 535.3,1777.93 537.6,1778.78 539.89,1779.59 542.19,1780.36 544.49,1781.1 546.79,1781.8 549.09,1782.46 551.38,1783.09 553.68,1783.7 555.98,1784.27 558.28,1784.81 560.57,1785.32 562.87,1785.81 565.17,1786.28 567.46,1786.71 569.76,1787.13 572.06,1787.52 574.36,1787.89 576.66,1788.24 578.95,1788.57 581.25,1788.89 583.55,1789.18 585.85,1789.46 588.14,1789.72 590.44,1789.97 592.74,1790.2 595.03,1790.42 597.33,1790.62 599.63,1790.82 601.93,1791 604.23,1791.17 606.52,1791.33 608.82,1791.48 611.12,1791.62 613.42,1791.75 615.71,1791.87 618.01,1791.99 620.31,1792.1 622.6,1792.2 624.9,1792.29 627.2,1792.38" fill="none" stroke="#000" stroke-width="3.1" stroke-dasharray="13.8 17.0" stroke-dashoffset="0"/>
<rect x="75.8" y="1384.3" width="551.4" height="409.2" fill="none" stroke="#000" stroke-width="1.4"/>
<path d="M75.8 1793.5h-6.3M75.8 1735.04h-6.3M75.8 1676.59h-6.3M75.8 1618.13h-6.3M75.8 1559.67h-6.3M75.8 1501.21h-6.3M75.8 1442.76h-6.3M75.8 1384.3h-6.3M75.8 1764.27h-3.4M75.8 1705.81h-3.4M75.8 1647.36h-3.4M75.8 1588.9h-3.4M75.8 1530.44h-3.4M75.8 1471.99h-3.4M75.8 1413.53h-3.4M75.8 1793.5v6.3M125.93 1793.5v6.3M176.05 1793.5v6.3M226.18 1793.5v6.3M276.31 1793.5v6.3M326.44 1793.5v6.3M376.56 1793.5v6.3M426.69 1793.5v6.3M476.82 1793.5v6.3M526.95 1793.5v6.3M577.07 1793.5v6.3M627.2 1793.5v6.3M100.86 1793.5v3.4M150.99 1793.5v3.4M201.12 1793.5v3.4M251.25 1793.5v3.4M301.37 1793.5v3.4M351.5 1793.5v3.4M401.63 1793.5v3.4M451.75 1793.5v3.4M501.88 1793.5v3.4M552.01 1793.5v3.4M602.14 1793.5v3.4" stroke="#000" stroke-width="1.4" fill="none"/>
<g font-family='"Liberation Serif", serif' font-weight="bold" font-size="18.8" fill="#000" stroke="#000" stroke-width="0.3">
<text x="64.8" y="1799.8" text-anchor="end">0</text>
<text x="64.8" y="1741.34" text-anchor="end">5</text>
<text x="64.8" y="1682.88" text-anchor="end">10</text>
<text x="64.8" y="1624.43" text-anchor="end">15</text>
<text x="64.8" y="1565.97" text-anchor="end">20</text>
<text x="64.8" y="1507.51" text-anchor="end">25</text>
<text x="64.8" y="1449.06" text-anchor="end">30</text>
<text x="64.8" y="1390.6" text-anchor="end">35</text>
<text x="75.8" y="1818.5" text-anchor="middle">380</text>
<text x="125.93" y="1818.5" text-anchor="middle">400</text>
<text x="176.05" y="1818.5" text-anchor="middle">420</text>
<text x="226.18" y="1818.5" text-anchor="middle">440</text>
<text x="276.31" y="1818.5" text-anchor="middle">460</text>
<text x="326.44" y="1818.5" text-anchor="middle">480</text>
<text x="376.56" y="1818.5" text-anchor="middle">500</text>
<text x="426.69" y="1818.5" text-anchor="middle">520</text>
<text x="476.82" y="1818.5" text-anchor="middle">540</text>
<text x="526.95" y="1818.5" text-anchor="middle">560</text>
<text x="577.07" y="1818.5" text-anchor="middle">580</text>
<text x="627.2" y="1818.5" text-anchor="middle">600</text>
</g>
<text x="351.5" y="1853.4" text-anchor="middle" font-family='"Liberation Serif", serif' font-weight="bold" font-size="22.6" stroke="#000" stroke-width="0.3">Water added (ml)</text>
<text transform="translate(39.2 1588.9) rotate(-90) scale(1.03 1.08)" text-anchor="middle" font-family='"Liberation Sans", sans-serif' font-weight="bold" font-size="22.3" stroke="#000" stroke-width="0.4">Count</text>
<rect x="404.4" y="1389.9" width="217.2" height="29.2" fill="#fff" stroke="#000" stroke-width="1.3"/>
<rect x="407.4" y="1393.1" width="46.4" height="22.4" fill="#009400" stroke="#4a4a4a" stroke-width="1"/>
<text x="460.3" y="1410.8" font-family='"Liberation Serif", serif' font-weight="bold" font-size="20.8" stroke="#000" stroke-width="0.3">Water added (ml)</text>
</g>
<g font-family='"Liberation Serif", serif' font-size="43.5" fill="#000"><text x="223" y="1946.1">(e)</text><text x="289.5" y="1946.1" textLength="222.3" lengthAdjust="spacing">Water added</text></g>
<g filter="url(#bl)">
<rect x="849.15" y="1418.7" width="32.04" height="371.8" fill="#009400" stroke="#4a4a4a" stroke-width="1"/>
<rect x="1209.1" y="1475.9" width="32.04" height="314.6" fill="#009400" stroke="#4a4a4a" stroke-width="1"/>
<polyline points="812.2,1590.28 814.6,1587.31 816.99,1584.33 819.39,1581.35 821.79,1578.36 824.18,1575.36 826.58,1572.36 828.98,1569.36 831.37,1566.36 833.77,1563.36 836.17,1560.35 838.56,1557.35 840.96,1554.36 843.36,1551.36 845.75,1548.37 848.15,1545.39 850.55,1542.41 852.94,1539.45 855.34,1536.49 857.74,1533.54 860.13,1530.61 862.53,1527.68 864.93,1524.78 867.32,1521.88 869.72,1519.01 872.12,1516.15 874.51,1513.31 876.91,1510.49 879.31,1507.7 881.7,1504.92 884.1,1502.17 886.5,1499.45 888.89,1496.75 891.29,1494.08 893.69,1491.43 896.08,1488.82 898.48,1486.24 900.88,1483.69 903.27,1481.17 905.67,1478.69 908.07,1476.25 910.46,1473.84 912.86,1471.47 915.26,1469.14 917.65,1466.85 920.05,1464.6 922.45,1462.39 924.84,1460.23 927.24,1458.11 929.64,1456.04 932.03,1454.01 934.43,1452.04 936.83,1450.11 939.22,1448.23 941.62,1446.4 944.02,1444.62 946.41,1442.9 948.81,1441.23 951.21,1439.61 953.6,1438.05 956,1436.54 958.4,1435.09 960.79,1433.7 963.19,1432.36 965.59,1431.09 967.98,1429.87 970.38,1428.72 972.78,1427.62 975.17,1426.59 977.57,1425.61 979.97,1424.7 982.36,1423.86 984.76,1423.07 987.16,1422.35 989.55,1421.69 991.95,1421.1 994.35,1420.57 996.74,1420.11 999.14,1419.71 1001.54,1419.38 1003.93,1419.12 1006.33,1418.91 1008.73,1418.78 1011.12,1418.71 1013.52,1418.71 1015.92,1418.77 1018.31,1418.9 1020.71,1419.09 1023.11,1419.35 1025.5,1419.68 1027.9,1420.07 1030.3,1420.53 1032.69,1421.05 1035.09,1421.63 1037.49,1422.28 1039.88,1423 1042.28,1423.78 1044.68,1424.62 1047.07,1425.52 1049.47,1426.49 1051.87,1427.52 1054.26,1428.6 1056.66,1429.75 1059.06,1430.97 1061.45,1432.23 1063.85,1433.56 1066.25,1434.95 1068.64,1436.39 1071.04,1437.9 1073.44,1439.45 1075.83,1441.06 1078.23,1442.73 1080.63,1444.45 1083.02,1446.22 1085.42,1448.04 1087.82,1449.92 1090.21,1451.84 1092.61,1453.82 1095.01,1455.84 1097.4,1457.91 1099.8,1460.02 1102.2,1462.18 1104.59,1464.38 1106.99,1466.62 1109.39,1468.91 1111.78,1471.24 1114.18,1473.6 1116.58,1476.01 1118.97,1478.45 1121.37,1480.93 1123.77,1483.44 1126.16,1485.99 1128.56,1488.56 1130.96,1491.17 1133.35,1493.81 1135.75,1496.48 1138.15,1499.18 1140.54,1501.9 1142.94,1504.65 1145.34,1507.42 1147.73,1510.22 1150.13,1513.03 1152.53,1515.87 1154.92,1518.72 1157.32,1521.6 1159.72,1524.49 1162.11,1527.4 1164.51,1530.32 1166.91,1533.25 1169.3,1536.2 1171.7,1539.15 1174.1,1542.12 1176.49,1545.1 1178.89,1548.08 1181.29,1551.07 1183.68,1554.06 1186.08,1557.06 1188.48,1560.06 1190.87,1563.06 1193.27,1566.06 1195.67,1569.07 1198.06,1572.07 1200.46,1575.07 1202.86,1578.06 1205.25,1581.05 1207.65,1584.04 1210.05,1587.02 1212.44,1589.99 1214.84,1592.95 1217.24,1595.9 1219.63,1598.85 1222.03,1601.78 1224.43,1604.7 1226.82,1607.61 1229.22,1610.5 1231.62,1613.38 1234.01,1616.25 1236.41,1619.1 1238.81,1621.93 1241.2,1624.74 1243.6,1627.54 1246,1630.32 1248.39,1633.07 1250.79,1635.81 1253.19,1638.53 1255.58,1641.23 1257.98,1643.9 1260.38,1646.55 1262.77,1649.18 1265.17,1651.79 1267.57,1654.37 1269.96,1656.93 1272.36,1659.46 1274.76,1661.97 1277.15,1664.45 1279.55,1666.91 1281.95,1669.34 1284.34,1671.74 1286.74,1674.11 1289.14,1676.46 1291.53,1678.78 1293.93,1681.08 1296.33,1683.34 1298.72,1685.58 1301.12,1687.79 1303.52,1689.97 1305.91,1692.12 1308.31,1694.24 1310.71,1696.33 1313.1,1698.39 1315.5,1700.43 1317.9,1702.43 1320.29,1704.41 1322.69,1706.36 1325.09,1708.27 1327.48,1710.16 1329.88,1712.02 1332.28,1713.85 1334.67,1715.65 1337.07,1717.42 1339.47,1719.16 1341.86,1720.87 1344.26,1722.55 1346.66,1724.21 1349.05,1725.83 1351.45,1727.43 1353.85,1729 1356.24,1730.53 1358.64,1732.05 1361.04,1733.53 1363.43,1734.99 1365.83,1736.41 1368.23,1737.81 1370.62,1739.19 1373.02,1740.53 1375.42,1741.85 1377.81,1743.15 1380.21,1744.41 1382.61,1745.66 1385,1746.87 1387.4,1748.06" fill="none" stroke="#000" stroke-width="2.8" stroke-dasharray="13.8 17.0" stroke-dashoffset="0"/>
<rect x="812.2" y="1361.5" width="575.2" height="429" fill="none" stroke="#000" stroke-width="1.5"/>
<path d="M812.2 1790.5h-6.3M812.2 1733.3h-6.3M812.2 1676.1h-6.3M812.2 1618.9h-6.3M812.2 1561.7h-6.3M812.2 1504.5h-6.3M812.2 1447.3h-6.3M812.2 1390.1h-6.3M812.2 1761.9h-3.4M812.2 1704.7h-3.4M812.2 1647.5h-3.4M812.2 1590.3h-3.4M812.2 1533.1h-3.4M812.2 1475.9h-3.4M812.2 1418.7h-3.4M812.2 1361.5h-3.4M847.48 1790.5v6.3M1027.45 1790.5v6.3M1207.43 1790.5v6.3M1387.4 1790.5v6.3M937.46 1790.5v3.4M1117.44 1790.5v3.4M1297.41 1790.5v3.4" stroke="#000" stroke-width="1.5" fill="none"/>
<g font-family='"Liberation Serif", serif' font-weight="bold" font-size="19.3" fill="#000" stroke="#000" stroke-width="0.3">
<text x="801.2" y="1796.97" text-anchor="end">0</text>
<text x="801.2" y="1739.77" text-anchor="end">10</text>
<text x="801.2" y="1682.57" text-anchor="end">20</text>
<text x="801.2" y="1625.37" text-anchor="end">30</text>
<text x="801.2" y="1568.17" text-anchor="end">40</text>
<text x="801.2" y="1510.97" text-anchor="end">50</text>
<text x="801.2" y="1453.77" text-anchor="end">60</text>
<text x="801.2" y="1396.57" text-anchor="end">70</text>
<text x="847.48" y="1815.5" text-anchor="middle">200</text>
<text x="1027.45" y="1815.5" text-anchor="middle">250</text>
<text x="1207.43" y="1815.5" text-anchor="middle">300</text>
<text x="1387.4" y="1815.5" text-anchor="middle">350</text>
</g>
<text x="1099.8" y="1851.8" text-anchor="middle" font-family='"Liberation Serif", serif' font-weight="bold" font-size="23.6" stroke="#000" stroke-width="0.3">Flowability (mm)</text>
<text transform="translate(773.4 1576) rotate(-90) scale(1.03 1.08)" text-anchor="middle" font-family='"Liberation Sans", sans-serif' font-weight="bold" font-size="23.2" stroke="#000" stroke-width="0.4">Count</text>
<rect x="1164.4" y="1366.4" width="221.8" height="30.5" fill="#fff" stroke="#000" stroke-width="1.3"/>
<rect x="1167.8" y="1370.3" width="48.3" height="23.5" fill="#009400" stroke="#4a4a4a" stroke-width="1"/>
<text x="1222.7" y="1389.6" font-family='"Liberation Serif", serif' font-weight="bold" font-size="21.7" stroke="#000" stroke-width="0.3">Flowability (mm)</text>
</g>
<g font-family='"Liberation Serif", serif' font-size="43.5" fill="#000"><text x="968" y="1956.5">(f)</text><text x="1035.8" y="1956.5" textLength="200.7" lengthAdjust="spacing">Flowability</text></g>
<g>
<rect x="214.91" y="2120.16" width="26.94" height="359.84" fill="#009400" stroke="#4a4a4a" stroke-width="1"/>
<rect x="245.18" y="2120.16" width="26.94" height="359.84" fill="#009400" stroke="#4a4a4a" stroke-width="1"/>
<rect x="275.45" y="2120.16" width="26.94" height="359.84" fill="#009400" stroke="#4a4a4a" stroke-width="1"/>
<rect x="366.26" y="2120.16" width="26.94" height="359.84" fill="#009400" stroke="#4a4a4a" stroke-width="1"/>
<rect x="487.34" y="2120.16" width="26.94" height="359.84" fill="#009400" stroke="#4a4a4a" stroke-width="1"/>
<polyline points="61.9,2474.76 64.22,2474.37 66.54,2473.95 68.86,2473.5 71.18,2473.02 73.5,2472.52 75.82,2471.98 78.14,2471.41 80.47,2470.8 82.79,2470.16 85.11,2469.48 87.43,2468.76 89.75,2468 92.07,2467.19 94.39,2466.34 96.71,2465.44 99.03,2464.49 101.35,2463.49 103.67,2462.43 105.99,2461.32 108.31,2460.16 110.63,2458.93 112.96,2457.64 115.28,2456.29 117.6,2454.87 119.92,2453.38 122.24,2451.82 124.56,2450.19 126.88,2448.49 129.2,2446.71 131.52,2444.85 133.84,2442.91 136.16,2440.89 138.48,2438.78 140.8,2436.59 143.12,2434.31 145.45,2431.93 147.77,2429.47 150.09,2426.92 152.41,2424.27 154.73,2421.52 157.05,2418.68 159.37,2415.74 161.69,2412.7 164.01,2409.57 166.33,2406.33 168.65,2402.99 170.97,2399.55 173.29,2396.01 175.61,2392.37 177.94,2388.63 180.26,2384.79 182.58,2380.86 184.9,2376.82 187.22,2372.68 189.54,2368.45 191.86,2364.13 194.18,2359.71 196.5,2355.21 198.82,2350.61 201.14,2345.93 203.46,2341.17 205.78,2336.33 208.1,2331.42 210.42,2326.43 212.75,2321.38 215.07,2316.26 217.39,2311.08 219.71,2305.85 222.03,2300.57 224.35,2295.25 226.67,2289.89 228.99,2284.49 231.31,2279.07 233.63,2273.62 235.95,2268.16 238.27,2262.7 240.59,2257.23 242.91,2251.77 245.24,2246.32 247.56,2240.89 249.88,2235.49 252.2,2230.12 254.52,2224.8 256.84,2219.52 259.16,2214.31 261.48,2209.16 263.8,2204.08 266.12,2199.08 268.44,2194.18 270.76,2189.37 273.08,2184.66 275.4,2180.07 277.73,2175.59 280.05,2171.25 282.37,2167.03 284.69,2162.96 287.01,2159.04 289.33,2155.27 291.65,2151.67 293.97,2148.23 296.29,2144.97 298.61,2141.89 300.93,2138.99 303.25,2136.29 305.57,2133.78 307.89,2131.47 310.21,2129.37 312.54,2127.47 314.86,2125.79 317.18,2124.32 319.5,2123.07 321.82,2122.04 324.14,2121.23 326.46,2120.65 328.78,2120.29 331.1,2120.16 333.42,2120.25 335.74,2120.57 338.06,2121.12 340.38,2121.89 342.7,2122.88 345.03,2124.09 347.35,2125.52 349.67,2127.16 351.99,2129.02 354.31,2131.09 356.63,2133.36 358.95,2135.84 361.27,2138.51 363.59,2141.37 365.91,2144.42 368.23,2147.65 370.55,2151.06 372.87,2154.63 375.19,2158.37 377.52,2162.27 379.84,2166.31 382.16,2170.5 384.48,2174.83 386.8,2179.28 389.12,2183.85 391.44,2188.54 393.76,2193.33 396.08,2198.22 398.4,2203.2 400.72,2208.27 403.04,2213.41 405.36,2218.61 407.68,2223.88 410,2229.19 412.33,2234.55 414.65,2239.95 416.97,2245.37 419.29,2250.82 421.61,2256.28 423.93,2261.75 426.25,2267.21 428.57,2272.67 430.89,2278.12 433.21,2283.55 435.53,2288.95 437.85,2294.32 440.17,2299.65 442.49,2304.94 444.82,2310.18 447.14,2315.37 449.46,2320.49 451.78,2325.56 454.1,2330.56 456.42,2335.49 458.74,2340.34 461.06,2345.11 463.38,2349.81 465.7,2354.41 468.02,2358.94 470.34,2363.37 472.66,2367.71 474.98,2371.95 477.31,2376.11 479.63,2380.16 481.95,2384.12 484.27,2387.97 486.59,2391.73 488.91,2395.39 491.23,2398.95 493.55,2402.4 495.87,2405.76 498.19,2409.01 500.51,2412.17 502.83,2415.22 505.15,2418.18 507.47,2421.04 509.8,2423.8 512.12,2426.46 514.44,2429.03 516.76,2431.51 519.08,2433.9 521.4,2436.2 523.72,2438.4 526.04,2440.53 528.36,2442.56 530.68,2444.52 533,2446.39 535.32,2448.19 537.64,2449.9 539.96,2451.55 542.28,2453.12 544.61,2454.62 546.93,2456.05 549.25,2457.41 551.57,2458.71 553.89,2459.95 556.21,2461.13 558.53,2462.25 560.85,2463.31 563.17,2464.32 565.49,2465.28 567.81,2466.18 570.13,2467.04 572.45,2467.86 574.77,2468.63 577.1,2469.36 579.42,2470.04 581.74,2470.69 584.06,2471.31 586.38,2471.88 588.7,2472.43 591.02,2472.94 593.34,2473.42 595.66,2473.87 597.98,2474.3 600.3,2474.7 602.62,2475.07 604.94,2475.42 607.26,2475.75 609.59,2476.05 611.91,2476.34 614.23,2476.61 616.55,2476.86 618.87,2477.09" fill="none" stroke="#000" stroke-width="3.1" stroke-dasharray="13.8 17.0" stroke-dashoffset="0"/>
<rect x="61.9" y="2030.2" width="605.4" height="449.8" fill="none" stroke="#000" stroke-width="1.4"/>
<path d="M61.9 2480h-6.3M61.9 2330.07h-6.3M61.9 2180.13h-6.3M61.9 2030.2h-6.3M61.9 2405.03h-3.4M61.9 2255.1h-3.4M61.9 2105.17h-3.4M92.17 2480v6.3M152.71 2480v6.3M213.25 2480v6.3M273.79 2480v6.3M334.33 2480v6.3M394.87 2480v6.3M455.41 2480v6.3M515.95 2480v6.3M576.49 2480v6.3M637.03 2480v6.3M61.9 2480v3.4M122.44 2480v3.4M182.98 2480v3.4M243.52 2480v3.4M304.06 2480v3.4M364.6 2480v3.4M425.14 2480v3.4M485.68 2480v3.4M546.22 2480v3.4M606.76 2480v3.4M667.3 2480v3.4" stroke="#000" stroke-width="1.4" fill="none"/>
<g font-family='"Liberation Serif", serif' font-weight="bold" font-size="19.5" fill="#000" stroke="#000" stroke-width="0.3">
<text x="50.9" y="2486.53" text-anchor="end">0</text>
<text x="50.9" y="2336.6" text-anchor="end">10</text>
<text x="50.9" y="2186.67" text-anchor="end">20</text>
<text x="50.9" y="2036.73" text-anchor="end">30</text>
<text x="92.17" y="2507" text-anchor="middle">-40</text>
<text x="152.71" y="2507" text-anchor="middle">-20</text>
<text x="213.25" y="2507" text-anchor="middle">0</text>
<text x="273.79" y="2507" text-anchor="middle">20</text>
<text x="334.33" y="2507" text-anchor="middle">40</text>
<text x="394.87" y="2507" text-anchor="middle">60</text>
<text x="455.41" y="2507" text-anchor="middle">80</text>
<text x="515.95" y="2507" text-anchor="middle">100</text>
<text x="576.49" y="2507" text-anchor="middle">120</text>
<text x="637.03" y="2507" text-anchor="middle">140</text>
</g>
<text x="364.6" y="2545.2" text-anchor="middle" font-family='"Liberation Serif", serif' font-weight="bold" font-size="24.8" stroke="#000" stroke-width="0.3">Curing period (days)</text>
<text transform="translate(20.9 2255.1) rotate(-90) scale(1.03 1.08)" text-anchor="middle" font-family='"Liberation Sans", sans-serif' font-weight="bold" font-size="24.1" stroke="#000" stroke-width="0.4">Count</text>
<rect x="394.4" y="2035.5" width="269.2" height="33" fill="#fff" stroke="#000" stroke-width="1.3"/>
<rect x="397.9" y="2040" width="50.8" height="25" fill="#009400" stroke="#4a4a4a" stroke-width="1"/>
<text x="455" y="2060.2" font-family='"Liberation Serif", serif' font-weight="bold" font-size="22.95" stroke="#000" stroke-width="0.3">Curing period (days)</text>
</g>
<g font-family='"Liberation Serif", serif' font-size="43.5" fill="#000"><text x="212.8" y="2638.7">(g)</text><text x="278.4" y="2638.7" textLength="244.5" lengthAdjust="spacing">Curing period</text></g>
<g>
<rect x="857.05" y="2174.93" width="54.89" height="308.07" fill="#009400" stroke="#4a4a4a" stroke-width="1"/>
<rect x="918.45" y="2038.01" width="54.89" height="444.99" fill="#009400" stroke="#4a4a4a" stroke-width="1"/>
<rect x="979.85" y="2220.57" width="54.89" height="262.43" fill="#009400" stroke="#4a4a4a" stroke-width="1"/>
<rect x="1041.25" y="2289.03" width="54.89" height="193.97" fill="#009400" stroke="#4a4a4a" stroke-width="1"/>
<rect x="1102.65" y="2425.95" width="54.89" height="57.05" fill="#009400" stroke="#4a4a4a" stroke-width="1"/>
<rect x="1164.05" y="2425.95" width="54.89" height="57.05" fill="#009400" stroke="#4a4a4a" stroke-width="1"/>
<rect x="1225.45" y="2448.77" width="54.89" height="34.23" fill="#009400" stroke="#4a4a4a" stroke-width="1"/>
<rect x="1286.85" y="2471.59" width="54.89" height="11.41" fill="#009400" stroke="#4a4a4a" stroke-width="1"/>
<polyline points="792.4,2436.26 794.51,2434.01 796.62,2431.68 798.73,2429.27 800.84,2426.77 802.95,2424.18 805.06,2421.5 807.17,2418.73 809.28,2415.87 811.4,2412.92 813.51,2409.88 815.62,2406.74 817.73,2403.5 819.84,2400.17 821.95,2396.75 824.06,2393.22 826.17,2389.6 828.28,2385.88 830.39,2382.06 832.5,2378.14 834.61,2374.12 836.72,2370.01 838.83,2365.8 840.94,2361.49 843.05,2357.09 845.17,2352.59 847.28,2347.99 849.39,2343.31 851.5,2338.53 853.61,2333.67 855.72,2328.71 857.83,2323.68 859.94,2318.55 862.05,2313.35 864.16,2308.07 866.27,2302.71 868.38,2297.29 870.49,2291.79 872.6,2286.23 874.71,2280.61 876.83,2274.93 878.94,2269.19 881.05,2263.41 883.16,2257.58 885.27,2251.71 887.38,2245.81 889.49,2239.87 891.6,2233.91 893.71,2227.93 895.82,2221.94 897.93,2215.94 900.04,2209.93 902.15,2203.93 904.26,2197.94 906.37,2191.96 908.48,2186.01 910.6,2180.08 912.71,2174.19 914.82,2168.34 916.93,2162.53 919.04,2156.78 921.15,2151.1 923.26,2145.48 925.37,2139.93 927.48,2134.47 929.59,2129.09 931.7,2123.81 933.81,2118.63 935.92,2113.56 938.03,2108.61 940.14,2103.77 942.25,2099.07 944.37,2094.49 946.48,2090.06 948.59,2085.77 950.7,2081.64 952.81,2077.66 954.92,2073.85 957.03,2070.2 959.14,2066.73 961.25,2063.44 963.36,2060.33 965.47,2057.41 967.58,2054.67 969.69,2052.14 971.8,2049.81 973.91,2047.67 976.02,2045.75 978.13,2044.03 980.25,2042.52 982.36,2041.23 984.47,2040.15 986.58,2039.3 988.69,2038.65 990.8,2038.23 992.91,2038.03 995.02,2038.05 997.13,2038.29 999.24,2038.74 1001.35,2039.42 1003.46,2040.32 1005.57,2041.43 1007.68,2042.76 1009.79,2044.3 1011.9,2046.05 1014.02,2048.01 1016.13,2050.17 1018.24,2052.54 1020.35,2055.11 1022.46,2057.87 1024.57,2060.82 1026.68,2063.96 1028.79,2067.29 1030.9,2070.79 1033.01,2074.46 1035.12,2078.3 1037.23,2082.3 1039.34,2086.46 1041.45,2090.78 1043.56,2095.23 1045.67,2099.83 1047.79,2104.55 1049.9,2109.41 1052.01,2114.38 1054.12,2119.47 1056.23,2124.67 1058.34,2129.97 1060.45,2135.36 1062.56,2140.83 1064.67,2146.39 1066.78,2152.02 1068.89,2157.72 1071,2163.48 1073.11,2169.29 1075.22,2175.15 1077.33,2181.05 1079.44,2186.98 1081.56,2192.94 1083.67,2198.92 1085.78,2204.91 1087.89,2210.92 1090,2216.92 1092.11,2222.92 1094.22,2228.91 1096.33,2234.89 1098.44,2240.85 1100.55,2246.78 1102.66,2252.67 1104.77,2258.54 1106.88,2264.36 1108.99,2270.13 1111.1,2275.86 1113.22,2281.53 1115.33,2287.14 1117.44,2292.69 1119.55,2298.18 1121.66,2303.6 1123.77,2308.94 1125.88,2314.21 1127.99,2319.4 1130.1,2324.51 1132.21,2329.53 1134.32,2334.47 1136.43,2339.32 1138.54,2344.08 1140.65,2348.75 1142.76,2353.33 1144.87,2357.81 1146.99,2362.2 1149.1,2366.49 1151.21,2370.69 1153.32,2374.79 1155.43,2378.79 1157.54,2382.69 1159.65,2386.49 1161.76,2390.2 1163.87,2393.8 1165.98,2397.31 1168.09,2400.72 1170.2,2404.04 1172.31,2407.26 1174.42,2410.38 1176.53,2413.41 1178.64,2416.35 1180.76,2419.19 1182.87,2421.94 1184.98,2424.61 1187.09,2427.18 1189.2,2429.67 1191.31,2432.07 1193.42,2434.39 1195.53,2436.62 1197.64,2438.78 1199.75,2440.85 1201.86,2442.85 1203.97,2444.77 1206.08,2446.62 1208.19,2448.4 1210.3,2450.1 1212.41,2451.74 1214.53,2453.31 1216.64,2454.81 1218.75,2456.25 1220.86,2457.63 1222.97,2458.96 1225.08,2460.22 1227.19,2461.43 1229.3,2462.58 1231.41,2463.68 1233.52,2464.74 1235.63,2465.74 1237.74,2466.69 1239.85,2467.61 1241.96,2468.47 1244.07,2469.3 1246.18,2470.08 1248.3,2470.83 1250.41,2471.54 1252.52,2472.21 1254.63,2472.85 1256.74,2473.45 1258.85,2474.02 1260.96,2474.57 1263.07,2475.08 1265.18,2475.57 1267.29,2476.03 1269.4,2476.46 1271.51,2476.87 1273.62,2477.26 1275.73,2477.63 1277.84,2477.97 1279.95,2478.3 1282.07,2478.6 1284.18,2478.89 1286.29,2479.16 1288.4,2479.42 1290.51,2479.66 1292.62,2479.88 1294.73,2480.1 1296.84,2480.29 1298.95,2480.48" fill="none" stroke="#000" stroke-width="3.1" stroke-dasharray="13.8 17.0" stroke-dashoffset="0"/>
<rect x="792.4" y="2026.6" width="614" height="456.4" fill="none" stroke="#000" stroke-width="1.4"/>
<path d="M792.4 2483h-6.3M792.4 2368.9h-6.3M792.4 2254.8h-6.3M792.4 2140.7h-6.3M792.4 2026.6h-6.3M792.4 2425.95h-3.4M792.4 2311.85h-3.4M792.4 2197.75h-3.4M792.4 2083.65h-3.4M792.4 2483v6.3M853.8 2483v6.3M915.2 2483v6.3M976.6 2483v6.3M1038 2483v6.3M1099.4 2483v6.3M1160.8 2483v6.3M1222.2 2483v6.3M1283.6 2483v6.3M1345 2483v6.3M1406.4 2483v6.3M823.1 2483v3.4M884.5 2483v3.4M945.9 2483v3.4M1007.3 2483v3.4M1068.7 2483v3.4M1130.1 2483v3.4M1191.5 2483v3.4M1252.9 2483v3.4M1314.3 2483v3.4M1375.7 2483v3.4" stroke="#000" stroke-width="1.4" fill="none"/>
<g font-family='"Liberation Serif", serif' font-weight="bold" font-size="20.4" fill="#000" stroke="#000" stroke-width="0.3">
<text x="781.4" y="2489.83" text-anchor="end">0</text>
<text x="781.4" y="2375.73" text-anchor="end">10</text>
<text x="781.4" y="2261.63" text-anchor="end">20</text>
<text x="781.4" y="2147.53" text-anchor="end">30</text>
<text x="781.4" y="2033.43" text-anchor="end">40</text>
<text x="792.4" y="2510.9" text-anchor="middle">-0.2</text>
<text x="853.8" y="2510.9" text-anchor="middle">0.0</text>
<text x="915.2" y="2510.9" text-anchor="middle">0.2</text>
<text x="976.6" y="2510.9" text-anchor="middle">0.4</text>
<text x="1038" y="2510.9" text-anchor="middle">0.6</text>
<text x="1099.4" y="2510.9" text-anchor="middle">0.8</text>
<text x="1160.8" y="2510.9" text-anchor="middle">1.0</text>
<text x="1222.2" y="2510.9" text-anchor="middle">1.2</text>
<text x="1283.6" y="2510.9" text-anchor="middle">1.4</text>
<text x="1345" y="2510.9" text-anchor="middle">1.6</text>
<text x="1406.4" y="2510.9" text-anchor="middle">1.8</text>
</g>
<text x="1099.4" y="2550" text-anchor="middle" font-family='"Liberation Serif", serif' font-weight="bold" font-size="24.8" stroke="#000" stroke-width="0.3">UCS (MPa)</text>
<text transform="translate(751.3 2254.8) rotate(-90) scale(1.03 1.08)" text-anchor="middle" font-family='"Liberation Sans", sans-serif' font-weight="bold" font-size="24.5" stroke="#000" stroke-width="0.4">Count</text>
<rect x="1215.7" y="2032.5" width="179.9" height="33" fill="#fff" stroke="#000" stroke-width="1.3"/>
<rect x="1219.2" y="2036.8" width="51.4" height="25.2" fill="#009400" stroke="#4a4a4a" stroke-width="1"/>
<text x="1278.1" y="2057.1" font-family='"Liberation Serif", serif' font-weight="bold" font-size="22.97" stroke="#000" stroke-width="0.3">UCS (MPa)</text>
</g>
<g font-family='"Liberation Serif", serif' font-size="43.5" fill="#000"><text x="1027" y="2643.1">(h)</text><text x="1092.1" y="2643.1" textLength="87.6" lengthAdjust="spacing">UCS</text></g>
</svg>
</body></html>
